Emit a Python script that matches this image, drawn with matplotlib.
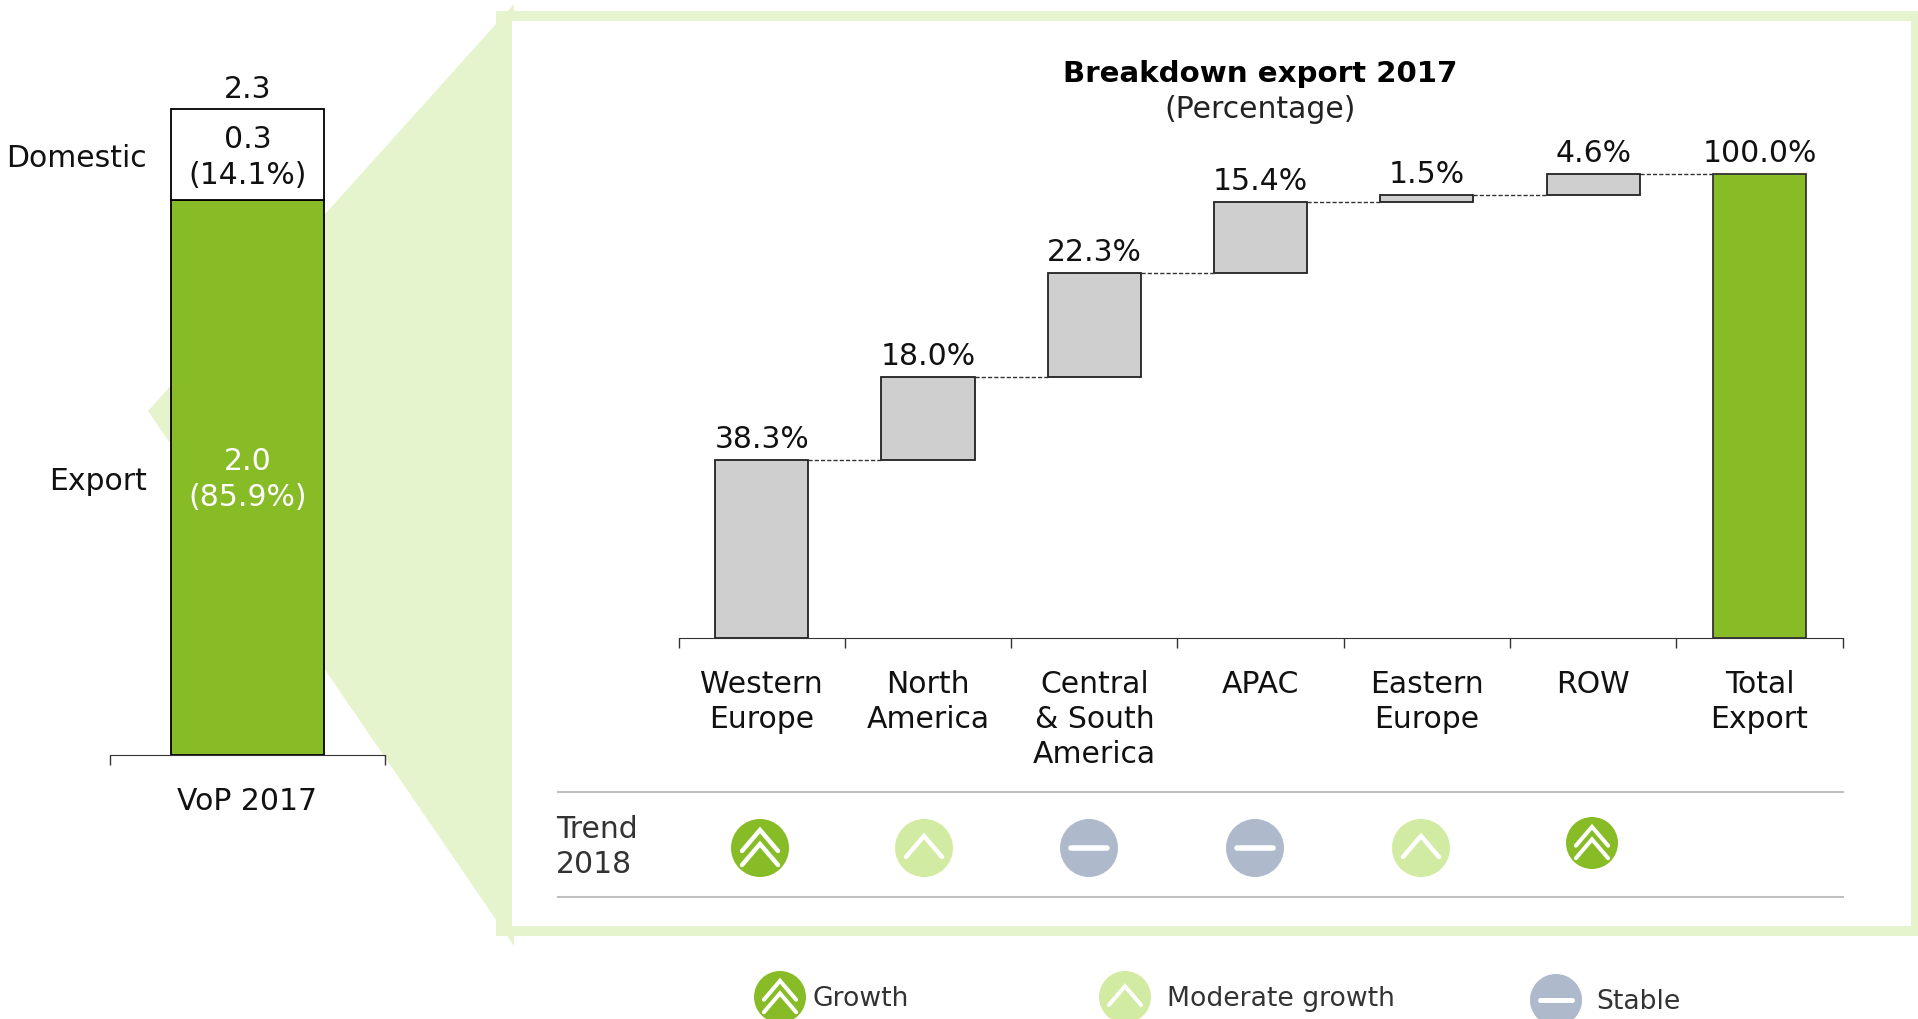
from matplotlib import pyplot as plt
from matplotlib.patches import Circle, Polygon, Rectangle
import numpy as np

# Data
vop_labels = ['Export', 'Domestic']
vop_values = [2.0, 0.3]
vop_shares = [85.9, 14.1]
vop_total = 2.3

regions = ['Western\nEurope', 'North\nAmerica', 'Central\n& South\nAmerica', 'APAC',
           'Eastern\nEurope', 'ROW', 'Total\nExport']
region_values = [38.3, 18.0, 22.3, 15.4, 1.5, 4.6]
total_value = 100.0
trend_2018 = ['growth', 'moderate', 'stable', 'stable', 'moderate', 'growth']

legend_keys = ['growth', 'moderate', 'stable']
legend_labels = ['Growth', 'Moderate growth', 'Stable']

# Colours
green = '#88BC26'
light_green = '#E6F4CE'
icon_colors = {'growth': green, 'moderate': '#D2EBA3', 'stable': '#AEB9CB'}
grey = '#CFCFCF'
text_color = '#111111'
soft_text = '#333333'

W, H = 1918, 1020
plt.rcParams['font.family'] = ['DejaVu Sans']
plt.rcParams['font.size'] = 21.5

fig = plt.figure(figsize=(W / 100, H / 100), dpi=100)


def px_axes(x0, y0, x1, y1, zorder=1):
    ax = fig.add_axes([x0 / W, 1 - y1 / H, (x1 - x0) / W, (y1 - y0) / H], zorder=zorder)
    ax.patch.set_alpha(0)
    return ax


def draw_icon(ax, kind, x, y, r):
    ax.add_patch(Circle((x, y), r, color=icon_colors[kind], lw=0))
    s = r / 29
    line = dict(color='white', lw=3.2 * s, solid_capstyle='round', solid_joinstyle='miter')
    if kind == 'stable':
        ax.plot([x - 18 * s, x + 18 * s], [y, y], **dict(line, lw=4 * s))
        return
    offsets = [-6, 8] if kind == 'growth' else [0]
    for off in offsets:
        top = y - 12 * s + off * s
        ax.plot([x - 18 * s, x, x + 18 * s], [top + 21 * s, top, top + 21 * s], **line)


# Background layer in pixels: zoom wedge, frame, rules and icons
bg = px_axes(0, 0, W, H, zorder=0)
bg.set_xlim(0, W)
bg.set_ylim(H, 0)
bg.axis('off')
bg.add_patch(Polygon([(148, 412), (514, 5), (514, 947)], color=light_green, lw=0))
bg.add_patch(Rectangle((496, 12), W - 496, 925, color=light_green, lw=0))
bg.add_patch(Rectangle((512, 22), 1911 - 512, 905, color='white', lw=0))

for y in [793, 898]:
    bg.plot([558, 1843], [y, y], color='#BFBFBF', lw=1.5)

bg.text(1260, 74, 'Breakdown export 2017', ha='center', va='center', fontweight='bold', color='black',
        fontsize=21.1)
bg.text(1260, 110, '(Percentage)', ha='center', va='center', color='#222222')
bg.text(556, 847, 'Trend\n2018', ha='left', va='center', color=soft_text, linespacing=1.26)

trend_x = [760, 924, 1089, 1255, 1421, 1592]
trend_y = [849, 849, 849, 849, 849, 844]
trend_r = [29, 29, 29, 29, 29, 26]
for kind, x, y, r in zip(trend_2018, trend_x, trend_y, trend_r):
    draw_icon(bg, kind, x, y, r)

legend_x = [780, 1125, 1556]
legend_y = [998, 998, 1001]
legend_text_x = [812, 1167, 1596]
for kind, label, x, y, tx in zip(legend_keys, legend_labels, legend_x, legend_y, legend_text_x):
    draw_icon(bg, kind, x, y, 26)
    bg.text(tx, y + 1, label, ha='left', va='center', color=soft_text, fontsize=19.2)

# Left stacked bar
ax0 = px_axes(110, 110.5, 385, 755.5)
ax0.bar(0, vop_shares[0], width=0.553, color=green, edgecolor='black', lw=1.3, clip_on=False)
ax0.bar(0, vop_shares[1], bottom=vop_shares[0], width=0.553, color='white', edgecolor='black', lw=1.3,
        clip_on=False)
ax0.set_xlim(-0.5, 0.5)
ax0.set_ylim(0, 100)
for s in ['top', 'left', 'right']:
    ax0.spines[s].set_visible(False)
ax0.spines['bottom'].set_color('#333333')
ax0.set_yticks([])
ax0.set_xticks([-0.5, 0.5])
ax0.set_xticklabels([])
ax0.tick_params(axis='x', length=7.2, width=1, color='#333333')
ax0.set_xticks([0], minor=True)
ax0.set_xticklabels(['VoP 2017'], minor=True, color=text_color)
ax0.tick_params(axis='x', which='minor', length=0, pad=23)

ax0.annotate(f'{vop_values[0]:.1f}\n({vop_shares[0]}%)', (0, vop_shares[0] / 2), xytext=(0, -1),
             textcoords='offset points', ha='center', va='center', color='white', linespacing=1.3)
ax0.annotate(f'{vop_values[1]:.1f}\n({vop_shares[1]}%)', (0, vop_shares[0] + vop_shares[1] / 2), xytext=(0, -1),
             textcoords='offset points', ha='center', va='center', color=text_color, linespacing=1.3)
ax0.annotate(f'{vop_total}', (0, 100), xytext=(0, 5), textcoords='offset points', ha='center', va='bottom',
             color=text_color)
ax0.annotate(vop_labels[0], (-0.365, vop_shares[0] / 2), xytext=(0, -2), textcoords='offset points',
             ha='right', va='center', color=text_color)
ax0.annotate(vop_labels[1], (-0.365, vop_shares[0] + vop_shares[1] / 2), xytext=(0, -2),
             textcoords='offset points', ha='right', va='center', color=text_color)

# Waterfall
ax1 = px_axes(678.6, 175, 1842.6, 639)
x = np.arange(len(regions))
bottoms = np.concatenate(([0], np.cumsum(region_values)[:-1]))
tops = bottoms + np.array(region_values)
bar_w = 0.56

ax1.bar(x[:-1], region_values, bottom=bottoms, width=bar_w, color=grey, edgecolor='#222222', lw=1.3,
        clip_on=False)
ax1.bar(x[-1], total_value, width=bar_w, color=green, edgecolor='#333333', lw=1.3, clip_on=False)

for i in range(len(region_values)):
    level = tops[i]
    ax1.plot([x[i] + bar_w / 2, x[i] + 1 - bar_w / 2], [level, level], color='#333333', lw=1,
             ls=(0, (3, 1.5)), clip_on=False)
    ax1.annotate(f'{region_values[i]}%', (x[i], level), xytext=(0, 5), textcoords='offset points',
                 ha='center', va='bottom', color=text_color)
ax1.annotate(f'{total_value}%', (x[-1], total_value), xytext=(0, 5), textcoords='offset points',
             ha='center', va='bottom', color=text_color)

ax1.set_xlim(-0.5, len(regions) - 0.5)
ax1.set_ylim(0, 100)
for s in ['top', 'left', 'right']:
    ax1.spines[s].set_visible(False)
ax1.spines['bottom'].set_color('#333333')
ax1.set_yticks([])
ax1.set_xticks(np.arange(len(regions) + 1) - 0.5)
ax1.set_xticklabels([])
ax1.tick_params(axis='x', length=7.2, width=1, color='#333333')
ax1.set_xticks(x, minor=True)
ax1.set_xticklabels(regions, minor=True, color=text_color, linespacing=1.26, va='top')
ax1.tick_params(axis='x', which='minor', length=0, pad=22)

fig.savefig('out.png', dpi=100)
